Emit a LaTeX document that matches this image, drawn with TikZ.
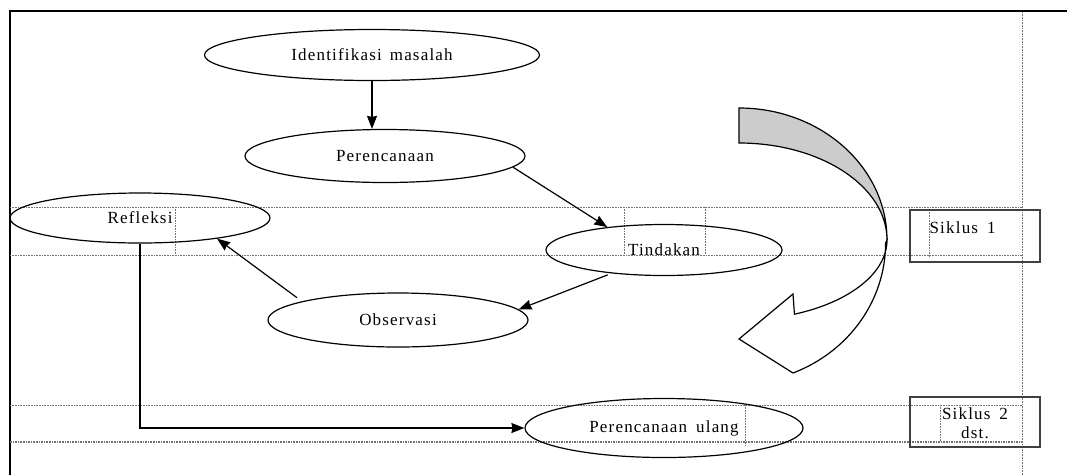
\documentclass[tikz,border=0pt]{standalone}
\usepackage{fontspec}
\setmainfont[LetterSpace=7]{Liberation Serif}
\usetikzlibrary{arrows.meta,shapes.geometric,positioning}

\begin{document}
\begin{tikzpicture}[x=1pt, y=-1pt, line width=1.2pt, >={Stealth[length=13pt, width=10pt, inset=1pt]},
   oval/.style={draw, ellipse, inner sep=0pt, font=\fontsize{17}{19}\selectfont},
   lbl/.style={inner sep=0pt, font=\fontsize{17}{19}\selectfont},
   layout/.style={densely dotted, black!55, line width=0.6pt},
   sikbox/.style={draw=black!75, line width=1.6pt, minimum width=130pt, minimum height=52pt}]
   \useasboundingbox (0,0) rectangle (1067,475);

   \draw[line width=2pt] (10,475) -- (10,11) -- (1067,11);
   \draw[layout] (1022,12) -- (1022,475);
   \draw[layout] (10,207) -- (1022,207) (10,255) -- (1022,255)
                 (175,207) -- (175,255) (624,207) -- (624,255) (705,207) -- (705,255)
                 (929,210) -- (929,258);
   \draw[layout] (10,405) -- (1022,405) (745,405) -- (745,446) (940,405) -- (940,441);
   \draw[layout, line width=1.6pt] (10,442) -- (1022,442);

   \node[oval, minimum width=335pt, minimum height=51pt] (ident) at (372,55) {Identifikasi\hspace{8pt}masalah};
   \node[oval, minimum width=280pt, minimum height=53pt] (rencana) at (385,156) {Perencanaan};
   \node[oval, minimum width=236pt, minimum height=51pt] (tindakan) at (664,250) {Tindakan};
   \node[oval, minimum width=260pt, minimum height=54pt] (observasi) at (398,320) {Observasi};
   \node[oval, minimum width=260pt, minimum height=50pt] (refleksi) at (140,218) {Refleksi};
   \node[oval, minimum width=278pt, minimum height=59pt] (ulang) at (664,428) {Perencanaan\hspace{9pt}ulang};

   \draw[->] (ident.south) -- (ident.south |- rencana.north);
   \draw[->] (rencana.-5) -- (tindakan.158);
   \draw[->, shorten <=4pt] (tindakan.-156) -- (observasi.5);
   \draw[->, shorten <=6pt] (observasi.169) -- (refleksi.-15);
   \draw[->] (refleksi.south) |- (ulang.west);

   \filldraw[fill=black!20] (739,108) arc[start angle=-90, end angle=0, x radius=148, y radius=132]
                            arc[start angle=0, end angle=-90, x radius=148, y radius=97] -- cycle;
   \filldraw[fill=white] (887,240) arc[start angle=0, end angle=68, x radius=148, y radius=80]
                         -- (793,294) -- (739,339) -- (793,373)
                         arc[start angle=68, end angle=0, x radius=148, y radius=140] -- cycle;

   \node[sikbox] (siklus1) at (975,236) {};
   \node[lbl, anchor=west] at (929,228) {Siklus\hspace{9pt}1};
   \node[sikbox, minimum height=50pt] (siklus2) at (975,422) {};
   \node[lbl, align=center] at (975,423) {Siklus\hspace{9pt}2\\dst.};

\end{tikzpicture}
\end{document}
